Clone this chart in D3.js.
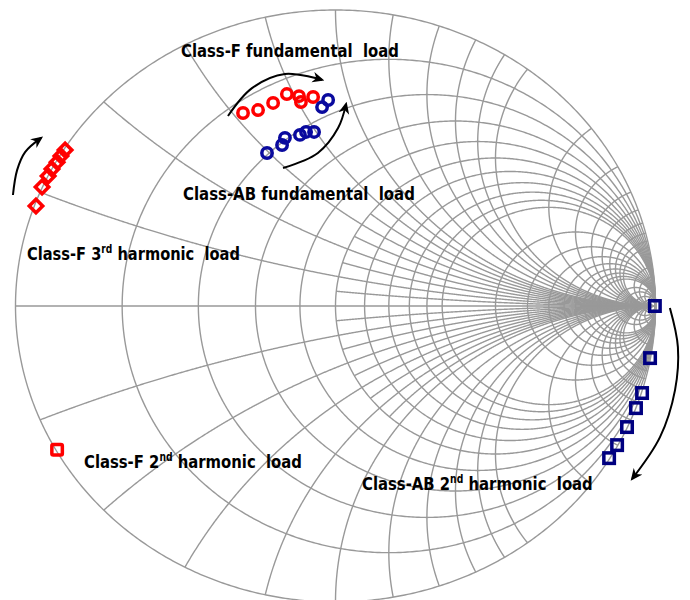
<!DOCTYPE html>
<html>
<head>
<meta charset="utf-8">
<script src="https://cdn.jsdelivr.net/npm/d3@7"></script>
<style>
  html, body { margin: 0; padding: 0; background: #fff; }
  svg { display: block; }
  text { white-space: pre; }
</style>
</head>
<body>
<svg id="chart" width="690" height="600"></svg>
<script>
// Smith chart grid: normalised resistance circles and reactance arcs
const resistanceValues = [0.2, 0.4, 0.6, 0.8, 1, 1.2, 1.4, 1.6, 1.8, 2, 3, 4, 5, 6, 7, 8, 9, 10, 15, 20, 30, 50];
const reactanceValues  = [0.2, 0.4, 0.6, 0.8, 1, 1.2, 1.4, 1.6, 1.8, 2, 3, 4, 5, 6, 7, 8, 9, 10, 15, 20, 30, 50];
// finer reactance arcs, drawn only inside the r = 1 circle
const minorReactanceValues = [0.1, 0.3, 0.5, 0.7, 0.9];

// Load trajectories as reflection coefficients (real part, imaginary part)
const classFFundRe  = [-0.289, -0.242, -0.195, -0.152, -0.114, -0.108, -0.070];
const classFFundIm  = [ 0.652,  0.662,  0.686,  0.716,  0.709,  0.689,  0.706];
const classABFundRe = [-0.214, -0.167, -0.158, -0.111, -0.092, -0.067, -0.042, -0.023];
const classABFundIm = [ 0.517,  0.544,  0.568,  0.578,  0.588,  0.588,  0.672,  0.696];
const classF3rdRe   = [-0.936, -0.917, -0.898, -0.886, -0.870, -0.858, -0.845];
const classF3rdIm   = [ 0.338,  0.402,  0.439,  0.463,  0.486,  0.507,  0.527];
const classF2ndRe   = [-0.870];
const classF2ndIm   = [-0.486];
const classAB2ndRe  = [0.998, 0.983, 0.958, 0.939, 0.911, 0.880, 0.855];
const classAB2ndIm  = [0.000, -0.176, -0.294, -0.345, -0.409, -0.470, -0.514];

const svg = d3.select("#chart");
const x = d3.scaleLinear().domain([-1, 1]).range([15.5, 655.5]);
const y = d3.scaleLinear().domain([-1, 1]).range([602, 10]);
const line = d3.line().x(d => x(d[0])).y(d => y(d[1]));

const grid = svg.append("g")
  .attr("fill", "none")
  .attr("stroke", "#999999")
  .attr("stroke-width", 1.4);

// reflection coefficient of a normalised impedance r + jx
function gamma(r, xv) {
  const a = r - 1, b = xv, c = r + 1, d = xv;
  const den = c * c + d * d;
  return [(a * c + b * d) / den, (b * c - a * d) / den];
}

// constant-resistance circle: centre r/(1+r), radius 1/(1+r)
function resistanceCircle(r) {
  const c = r / (1 + r), rho = 1 / (1 + r);
  return d3.range(0, 721).map(i => {
    const t = i / 720 * 2 * Math.PI;
    return [c + rho * Math.cos(t), rho * Math.sin(t)];
  });
}

// constant-reactance arc from resistance rMin out to the open-circuit point
function reactanceArc(xv, rMin) {
  const n = 900;
  return d3.range(0, n + 1).map(i => {
    const u = (i / n) * (Math.PI / 2 - 1e-5);
    return gamma(rMin + Math.tan(u) * (1 + Math.abs(xv)), xv);
  });
}

resistanceValues.forEach(r => grid.append("path").attr("d", line(resistanceCircle(r))));
reactanceValues.forEach(v => {
  grid.append("path").attr("d", line(reactanceArc(v, 0)));
  grid.append("path").attr("d", line(reactanceArc(-v, 0)));
});
minorReactanceValues.forEach(v => {
  grid.append("path").attr("d", line(reactanceArc(v, 1)));
  grid.append("path").attr("d", line(reactanceArc(-v, 1)));
});
// real axis and outer boundary
grid.append("path").attr("d", line([[-1, 0], [1, 0]]));
grid.append("path").attr("d", line(resistanceCircle(0)));

// markers
const zip = (re, im) => re.map((v, i) => [v, im[i]]);
const red = "#ff0000", blue = "#0a0a9e", navy = "#000080";

svg.append("g").selectAll("circle")
  .data(zip(classFFundRe, classFFundIm)).join("circle")
  .attr("cx", d => x(d[0])).attr("cy", d => y(d[1])).attr("r", 5.2)
  .attr("fill", "none").attr("stroke", red).attr("stroke-width", 3.5);

svg.append("g").selectAll("circle")
  .data(zip(classABFundRe, classABFundIm)).join("circle")
  .attr("cx", d => x(d[0])).attr("cy", d => y(d[1])).attr("r", 5.2)
  .attr("fill", "none").attr("stroke", blue).attr("stroke-width", 3.5);

const dSide = 9.5;
svg.append("g").selectAll("rect")
  .data(zip(classF3rdRe, classF3rdIm)).join("rect")
  .attr("x", -dSide / 2).attr("y", -dSide / 2).attr("width", dSide).attr("height", dSide)
  .attr("transform", d => `translate(${x(d[0])},${y(d[1])}) rotate(45)`)
  .attr("fill", "none").attr("stroke", red).attr("stroke-width", 3.5);

const sSide = 10.5;
svg.append("g").selectAll("rect")
  .data(zip(classF2ndRe, classF2ndIm)).join("rect")
  .attr("x", d => x(d[0]) - sSide / 2).attr("y", d => y(d[1]) - sSide / 2)
  .attr("width", sSide).attr("height", sSide).attr("rx", 1.5)
  .attr("fill", "none").attr("stroke", red).attr("stroke-width", 3.5);

svg.append("g").selectAll("rect")
  .data(zip(classAB2ndRe, classAB2ndIm)).join("rect")
  .attr("x", d => x(d[0]) - sSide / 2).attr("y", d => y(d[1]) - sSide / 2)
  .attr("width", sSide).attr("height", sSide)
  .attr("fill", "none").attr("stroke", navy).attr("stroke-width", 3.5);

// direction arrows
svg.append("defs").append("marker")
  .attr("id", "head").attr("viewBox", "0 0 10 10").attr("refX", 8).attr("refY", 5)
  .attr("markerWidth", 12).attr("markerHeight", 12).attr("markerUnits", "userSpaceOnUse")
  .attr("orient", "auto")
  .append("path").attr("d", "M0,0.5 L10,5 L0,9.5 L3,5 Z").attr("fill", "#000");

const arrowLine = d3.line().x(d => x(d[0])).y(d => y(d[1])).curve(d3.curveCatmullRom);
const arrows = [
  [[-0.336, 0.642], [-0.261, 0.736], [-0.158, 0.784], [-0.042, 0.764]],
  [[-0.164, 0.466], [-0.055, 0.517], [0.008, 0.601], [0.033, 0.682]],
  [[-1.008, 0.375], [-0.995, 0.459], [-0.970, 0.520], [-0.920, 0.568]],
  [[1.045, -0.007], [1.070, -0.139], [1.061, -0.284], [1.014, -0.443], [0.927, -0.584]]
];
svg.append("g").selectAll("path").data(arrows).join("path")
  .attr("d", arrowLine).attr("fill", "none").attr("stroke", "#000")
  .attr("stroke-width", 2).attr("marker-end", "url(#head)");

// labels: [main text, superscript, rest], left x, baseline y, width
const labels = [
  { parts: ["Class-F fundamental  load"], x: 181, y: 57, w: 218 },
  { parts: ["Class-AB fundamental  load"], x: 183, y: 200, w: 232 },
  { parts: ["Class-F 3", "rd", " harmonic  load"], x: 27, y: 260, w: 213 },
  { parts: ["Class-F 2", "nd", " harmonic  load"], x: 84, y: 468, w: 218 },
  { parts: ["Class-AB 2", "nd", " harmonic  load"], x: 362, y: 490, w: 231 }
];
const lg = svg.append("g")
  .attr("font-family", "Tahoma, 'DejaVu Sans Condensed', 'DejaVu Sans', sans-serif")
  .attr("font-weight", "bold").attr("font-size", 18.5).attr("fill", "#000");
labels.forEach(l => {
  const t = lg.append("text").attr("x", 0).attr("y", 0);
  t.append("tspan").text(l.parts[0]);
  if (l.parts.length > 1) {
    t.append("tspan").attr("font-size", 11.5).attr("dy", -7.5).text(l.parts[1]);
    t.append("tspan").attr("dy", 7.5).text(l.parts[2]);
  }
  const w = t.node().getComputedTextLength();
  t.attr("transform", `translate(${l.x},${l.y}) scale(${l.w / w},1)`);
});
</script>
</body>
</html>
